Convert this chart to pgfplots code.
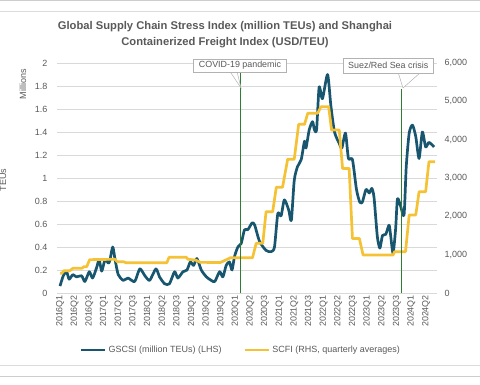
\documentclass[border=0pt]{standalone}
\usepackage{pgfplots}
\pgfplotsset{compat=1.18}
\usepackage{fontspec}
\setmainfont{Liberation Sans}
\definecolor{gscsi}{RGB}{24,86,112}
\definecolor{scfi}{RGB}{244,194,52}
\definecolor{vline}{RGB}{46,125,50}
\definecolor{txt}{RGB}{89,89,89}
\definecolor{gridc}{RGB}{217,217,217}
\definecolor{framec}{RGB}{205,205,205}
\begin{document}
\begin{tikzpicture}[x=1pt,y=1pt]
\clip (0,0) rectangle (480,384);
\path[use as bounding box] (0,0) rectangle (480,384);
% frame lines
\draw[framec,line width=0.8pt] (0,383.2) -- (480,383.2);
\draw[framec!70,line width=0.8pt] (0,372.3) -- (480,372.3);
\draw[framec!70,line width=0.8pt] (0,19) -- (480,19);
\draw[framec,line width=0.8pt] (0,7.3) -- (480,7.3);
% title
\node[text=txt,font=\bfseries\fontsize{11.2}{16}\selectfont,align=center] at (225,349) {Global Supply Chain Stress Index (million TEUs) and Shanghai\\Containerized Freight Index (USD/TEU)};
\node[text=txt,font=\fontsize{9}{10}\selectfont,rotate=90] at (23,300) {Millions};
\node[text=txt,font=\fontsize{9}{10}\selectfont,rotate=90] at (3,204) {TEUs};
\begin{axis}[
  at={(57pt,91pt)}, anchor=south west,
  scale only axis, width=380pt, height=230pt,
  xmin=-0.82, xmax=103.0, ymin=0, ymax=2,
  axis x line*=bottom, axis y line*=left,
  axis line style={draw=none}, tick style={draw=none},
  ytick={0,0.2,...,2.01},
  ymajorgrids, grid style={gridc, line width=0.8pt},
  xtick={0,4,...,100},
  xticklabels={2016Q1,2016Q2,2016Q3,2017Q1,2017Q2,2017Q3,2018Q1,2018Q2,2018Q3,2019Q1,2019Q2,2019Q3,2020Q1,2020Q2,2020Q3,2021Q1,2021Q2,2021Q3,2022Q1,2022Q2,2022Q3,2023Q1,2023Q2,2023Q3,2024Q1,2024Q2},
  xticklabel style={rotate=90, anchor=east, font=\fontsize{8.9}{10}\selectfont, text=txt, inner sep=2pt},
  yticklabel style={font=\fontsize{9}{10}\selectfont, text=txt, xshift=-6pt},
  /pgf/number format/assume math mode=true,
  legend style={at={(0.484,-0.248)}, anchor=center, draw=none, fill=none,
    font=\fontsize{9}{10}\selectfont, text=txt, legend columns=2,
    /tikz/every even column/.append style={column sep=20pt}},
  legend image code/.code={\draw[#1] (0pt,0pt) -- (24pt,0pt);},
]
\addplot[gscsi, line width=2.7pt, line join=round, smooth, tension=0.4] coordinates {
(0,0.06) (0.9,0.15) (1.8,0.185) (2.5,0.12) (3.5,0.16) (4.5,0.14) (5.9,0.15) (6.8,0.10)
(8.0,0.185) (8.9,0.13) (10.0,0.22) (10.7,0.29) (11.4,0.19) (12.3,0.29) (13.2,0.26) (13.6,0.28)
(14.4,0.40) (15.0,0.30) (15.9,0.16) (17.3,0.11) (18.6,0.13) (20.4,0.10) (21.8,0.21) (23.2,0.15)
(24.5,0.11) (26.2,0.21) (27.2,0.14) (28.6,0.08) (29.9,0.08) (31.3,0.185) (32.2,0.13) (33.6,0.185)
(34.7,0.20) (35.6,0.27) (36.5,0.24) (37.4,0.30) (38.6,0.20) (40.0,0.14) (41.3,0.11) (42.3,0.10)
(43.6,0.185) (44.5,0.14) (45.4,0.24) (46.3,0.27) (47.0,0.20) (47.7,0.32) (48.6,0.40) (49.5,0.43)
(50.4,0.55) (51.3,0.55) (52.5,0.61) (53.2,0.59) (54.5,0.45) (56.3,0.37) (57.7,0.36) (58.6,0.40)
(59.5,0.69) (60.4,0.67) (61.3,0.81) (62.5,0.72) (63.2,0.63) (64.0,0.98) (64.9,1.10) (65.9,1.16)
(66.8,1.32) (67.2,1.26) (68.1,1.42) (69.0,1.49) (69.5,1.42) (70.1,1.42) (70.8,1.79) (71.7,1.69)
(73.1,1.90) (74.0,1.63) (75.0,1.40) (76.3,1.30) (77.0,1.26) (78.0,1.39) (78.8,1.17) (79.9,1.16)
(81.0,0.90) (81.9,0.79) (82.6,0.79) (83.6,0.90) (84.5,0.87) (85.2,0.91) (85.8,0.83) (86.7,0.49)
(87.4,0.39) (88.1,0.50) (89.0,0.51) (89.9,0.59) (90.3,0.51) (91.0,0.345) (91.7,0.56) (92.2,0.82)
(93.1,0.75) (94.0,0.68) (94.6,1.10) (95.4,1.39) (96.3,1.46) (97.2,1.36) (98.1,1.17) (99.0,1.40)
(99.9,1.27) (100.8,1.31) (102.2,1.27)
};
\addlegendentry{GSCSI (million TEUs) (LHS)}
\addlegendimage{scfi, line width=2.7pt}
\addlegendentry{SCFI (RHS, quarterly averages)}
\end{axis}
\begin{axis}[
  at={(57pt,91pt)}, anchor=south west,
  scale only axis, width=380pt, height=230pt,
  xmin=-0.82, xmax=103.0, ymin=0, ymax=6000,
  axis x line=none, axis y line*=right,
  axis line style={draw=none}, tick style={draw=none},
  ytick={0,1000,...,6000},
  yticklabel style={font=\fontsize{9}{10}\selectfont, text=txt, xshift=4pt},
  /pgf/number format/assume math mode=true,
  /pgf/number format/1000 sep={,},
]
\addplot[scfi, line width=2.7pt, line join=round] coordinates {
(0,514) (0.5,514) (1.1,582) (2.7,582) (3.5,644) (6,644) (6.5,686) (7.3,686) (8.1,870) (15,880)
(15.6,817) (17.3,817) (18,791) (29.2,791) (29.8,931) (34.5,931) (35,879) (37,860) (37.6,835)
(38.3,800) (43.8,795) (45.7,879) (46.6,921) (52.6,921) (53.6,1297) (55.4,1297) (56.3,2121)
(58.1,2121) (59.1,2760) (60.8,2760) (62.2,3490) (64,3490) (65.2,4400) (66.8,4400) (67.7,4690)
(70.4,4690) (71.3,4860) (73.4,4860) (74.2,4250) (76.3,4250) (77.2,3250) (79,3250) (79.9,1420)
(81.8,1420) (82.8,991) (91,991) (91.4,1078) (94.4,1078) (95.4,2035) (97.2,2035) (98.1,2643)
(99.9,2643) (100.8,3426) (102.5,3426)
};
\addplot[vline, line width=1.1pt] coordinates {(49.3,0) (49.3,5730)};
\addplot[vline, line width=1.1pt] coordinates {(93.4,0) (93.4,5310)};
\end{axis}
% callouts
\filldraw[draw=gray!60, fill=white, line width=0.5pt] (230,312.5) -- (241,296) -- (237,312.5);
\node[draw=gray!60, fill=white, line width=0.5pt, text=txt, font=\fontsize{8.9}{10}\selectfont, minimum width=93pt, minimum height=13.5pt, inner sep=1pt] at (240,318.5) {COVID-19 pandemic};
\filldraw[draw=gray!60, fill=white, line width=0.5pt] (398,312) -- (403,296) -- (421,312);
\node[draw=gray!60, fill=white, line width=0.5pt, text=txt, font=\fontsize{8.9}{10}\selectfont, minimum width=90pt, minimum height=15pt, inner sep=1pt] at (388.3,318.2) {Suez/Red Sea crisis};
\end{tikzpicture}
\end{document}
